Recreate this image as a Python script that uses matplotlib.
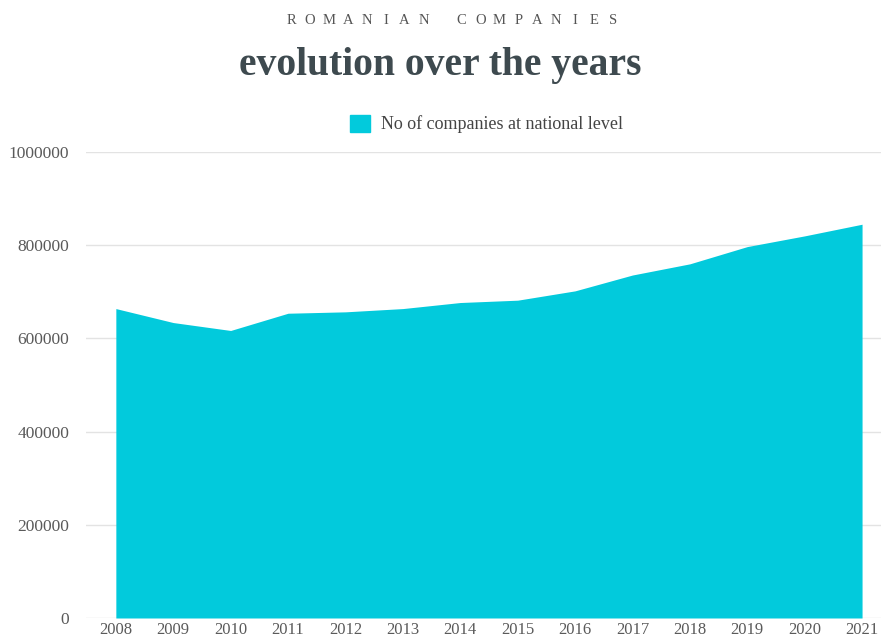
import matplotlib
matplotlib.use("Agg")
import matplotlib.pyplot as plt
from matplotlib.patches import Patch

years = [2008, 2009, 2010, 2011, 2012, 2013, 2014, 2015, 2016, 2017, 2018, 2019, 2020, 2021]
companies = [664000, 634000, 617000, 654000, 657000, 664000, 677000, 682000, 702000, 736000, 760000, 797000, 820000, 845000]
yticks = [0, 200000, 400000, 600000, 800000, 1000000]
kicker = "ROMANIAN COMPANIES"

fill_color = "#02cadc"
text_gray = "#5a5a5a"
title_color = "#3e4a4f"
serif = ["Liberation Serif", "DejaVu Serif"]

fig = plt.figure(figsize=(8.81, 6.4), dpi=100)
ax = fig.add_axes([86 / 881, 1 - 618 / 640, 1 - 86 / 881, (618 - 152) / 640])

ax.fill_between(years, 0, companies, color=fill_color, linewidth=0, zorder=2)

ax.set_xlim(2007.48, 2021.33)
ax.set_ylim(0, 1000000)
ax.set_xticks(years)
ax.set_xticklabels([str(y) for y in years])
ax.set_yticks(yticks)
ax.set_yticklabels([str(v) for v in yticks])
ax.grid(axis="y", color="#e3e3e3", linewidth=1, zorder=0)
ax.set_axisbelow(True)
for s in ax.spines.values():
    s.set_visible(False)
ax.tick_params(length=0, labelsize=12.5, labelcolor=text_gray)
ax.tick_params(axis="x", pad=3, labelsize=12)
ax.tick_params(axis="y", pad=12)
for lbl in ax.get_xticklabels() + ax.get_yticklabels():
    lbl.set_family(serif)

# letter-spaced kicker, one letter at a time
x0, x1 = 291 / 881, 613 / 881
step = (x1 - x0) / (len(kicker) - 1)
for i, ch in enumerate(kicker):
    if ch != " ":
        fig.text(x0 + i * step, 1 - 21 / 640, ch, ha="center", va="center",
                 fontsize=10.5, color="#555555", family=serif)

fig.text(0.5, 1 - 66 / 640, "evolution over the years", ha="center", va="center",
         fontsize=28.5, fontweight="bold", color=title_color, family=serif)

leg = fig.legend(handles=[Patch(color=fill_color, label="No of companies at national level")],
                 loc="center", bbox_to_anchor=(0.552, 1 - 124 / 640), frameon=False,
                 handlelength=1.1, handleheight=1.1, handletextpad=0.6,
                 prop={"family": serif, "size": 13})
for t in leg.get_texts():
    t.set_color("#444444")

fig.savefig("out.png", dpi=100)
